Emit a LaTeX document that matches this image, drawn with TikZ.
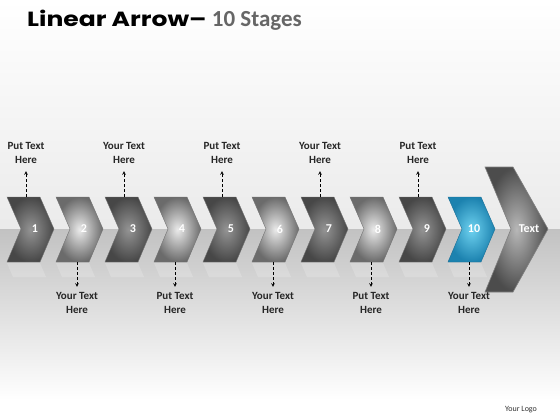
\documentclass[tikz,border=0pt]{standalone}
\usepackage{fontspec}
\setmainfont{Carlito}
\newfontfamily\titlefont[FakeStretch=1.22]{Poppins}
\begin{document}
\begin{tikzpicture}[x=1pt, y=-1pt,
    lbl/.style={font=\bfseries\fontsize{11}{14}\selectfont, align=center, text=black!85},
    num/.style={font=\bfseries\fontsize{12}{14}\selectfont, text=white},
    tip/.style={densely dashed, line width=0.6pt, ->, >=stealth}]
    \useasboundingbox (0,0) rectangle (560,420);

    % background
    \shade[top color=white, bottom color=black!8] (0,0) rectangle (560,229);
    \shade[top color=black!24, bottom color=white] (0,229) rectangle (560,400);
    \fill[white] (0,400) rectangle (560,420);

    % title
    \node[anchor=base west, inner sep=0] (title) at (27,27)
        {\titlefont\bfseries\fontsize{20.5}{22}\selectfont Linear Arrow\textendash\
         {\rmfamily\fontsize{23}{24}\selectfont\color{black!60}10 Stages}};

    % stages
    \foreach \i [evaluate=\i as \x using {7+49*(\i-1)}] in {1,...,9} {
        \ifodd\i \def\ic{black!42}\def\oc{black!72}\else \def\ic{black!8}\def\oc{black!58}\fi
        \shade[inner color=\ic, outer color=\oc, draw=black!55, line width=0.4pt]
            (\x,197) -- ++(33,0) -- ++(14,32) -- ++(-14,33) -- ++(-33,0) -- ++(14,-33) -- cycle;
        \fill[white, opacity=0.18] (\x,263) -- ++(33,0) -- ++(6,14) -- ++(-33,0) -- cycle;
        \node[num] (n\i) at (\x+28,229) {\i};
    }
    \shade[inner color={rgb,255:red,110;green,210;blue,240}, outer color={rgb,255:red,28;green,130;blue,175},
        draw={rgb,255:red,25;green,110;blue,150}, line width=0.4pt]
        (448,197) -- ++(33,0) -- ++(14,32) -- ++(-14,33) -- ++(-33,0) -- ++(14,-33) -- cycle;
    \fill[white, opacity=0.18] (448,263) -- ++(33,0) -- ++(6,14) -- ++(-33,0) -- cycle;
    \node[num] (n10) at (474,229) {10};

    % big arrow
    \shade[inner color=black!28, outer color=black!70, draw=black!50, line width=0.6pt]
        (485,167) -- (513,167) -- (548,229) -- (513,292) -- (485,292) -- (511,229) -- cycle;
    \node[num] (end) at (529,229) {Text};

    % labels above
    \foreach \i/\t in {1/Put,3/Your,5/Put,7/Your,9/Put} {
        \coordinate (t\i) at ({7+49*(\i-1)+19},197);
        \node[lbl] (l\i) at ({7+49*(\i-1)+19},153) {\t\ Text\\Here};
        \draw[tip, shorten >=4pt] (t\i) -- (l\i.south);
    }
    % labels below
    \foreach \i/\t in {2/Your,4/Put,6/Your,8/Put,10/Your} {
        \coordinate (b\i) at ({7+49*(\i-1)+21},262);
        \node[lbl] (l\i) at ({7+49*(\i-1)+21},303) {\t\ Text\\Here};
        \draw[tip, shorten >=2pt] (b\i) -- (l\i.north);
    }

    \node[font=\fontsize{8}{9}\selectfont, text=black!80] (logo) at (521,410) {Your Logo};
\end{tikzpicture}
\end{document}
